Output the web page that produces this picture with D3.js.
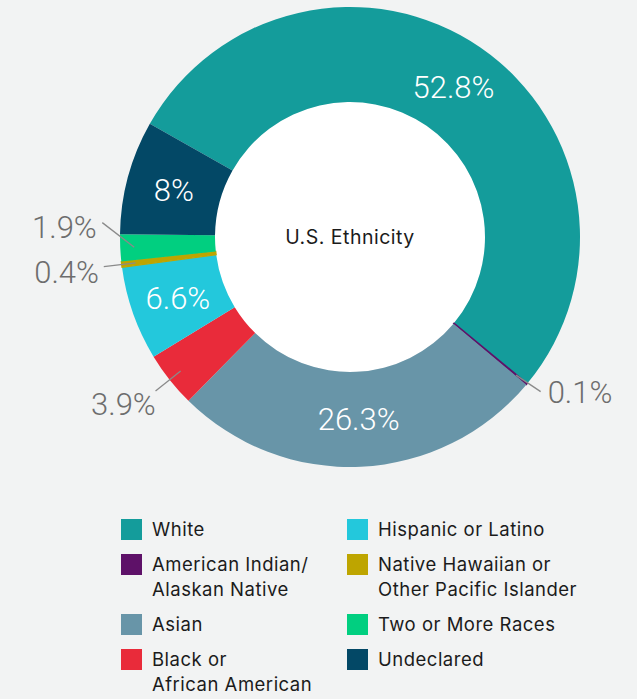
<!DOCTYPE html>
<html>
<head>
<meta charset="utf-8">
<script src="https://cdn.jsdelivr.net/npm/d3@7"></script>
<style>
  html, body { margin: 0; padding: 0; background: #f2f3f3; }
  svg { display: block; }
</style>
</head>
<body>
<svg id="chart"></svg>
<script>
const categories = ['White', 'American Indian/\nAlaskan Native', 'Asian', 'Black or\nAfrican American',
    'Hispanic or Latino', 'Native Hawaiian or\nOther Pacific Islander', 'Two or More Races', 'Undeclared'];
const shares = [52.8, 0.1, 26.3, 3.9, 6.6, 0.4, 1.9, 8];
const colors = ['#149c9b', '#5e1168', '#6895a8', '#e92b3a', '#23c8dc', '#bea500', '#01cf80', '#034866'];
const centerTitle = 'U.S. Ethnicity';

const WIDTH = 637, HEIGHT = 699;
const cx = 350, cy = 237, outerR = 230, innerR = 135;
const START = -60.5 * Math.PI / 180;
const INSIDE_MIN = 5;

const svg = d3.select('#chart').attr('width', WIDTH).attr('height', HEIGHT);
const g = svg.append('g').attr('transform', `translate(${cx}, ${cy})`);

const data = categories.map((name, i) => ({name, value: shares[i], color: colors[i]}));
const pie = d3.pie().sort(null).value(d => d.value)
    .startAngle(START).endAngle(START + 2 * Math.PI);
const arcs = pie(data);
const arc = d3.arc().innerRadius(innerR).outerRadius(outerR);
const fmt = v => `${v}%`;
const polar = (r, a) => [r * Math.sin(a), -r * Math.cos(a)];
const mid = d => (d.startAngle + d.endAngle) / 2;

g.append('circle').attr('r', innerR).attr('fill', '#fff');

g.selectAll('.slice')
    .data(arcs)
    .enter()
    .append('path')
    .classed('slice', true)
    .attr('d', arc)
    .attr('fill', d => d.data.color)
    .attr('stroke', d => d.data.value < 1 ? d.data.color : 'none')
    .attr('stroke-width', 1.2);

// labels inside the ring
g.selectAll('.inlabel')
    .data(arcs.filter(d => d.data.value >= INSIDE_MIN))
    .enter()
    .append('text')
    .classed('inlabel', true)
    .attr('transform', d => `translate(${arc.centroid(d)})`)
    .attr('text-anchor', 'middle')
    .attr('dy', '0.36em')
    .attr('fill', '#fff')
    .style('font-family', 'Roboto, sans-serif')
    .style('font-weight', 300)
    .style('font-size', '31px')
    .text(d => fmt(d.data.value));

// labels outside, with connectors
const outside = arcs.filter(d => d.data.value < INSIDE_MIN).map(d => {
    const a = mid(d);
    const end = polar(outerR + 18, a);
    return {d, a, left: Math.sin(a) < 0, start: polar(outerR - 14, a), x: end[0], y: end[1]};
});
const spacing = 44;
[true, false].forEach(side => {
    const group = outside.filter(o => o.left === side).sort((p, q) => q.y - p.y);
    for (let i = 1; i < group.length; i++) {
        group[i].y = Math.min(group[i].y, group[i - 1].y - spacing);
    }
});
// right-hand connectors bend up a little towards the label
outside.filter(o => !o.left).forEach(o => { o.y -= 4; });

g.selectAll('.leader')
    .data(outside)
    .enter()
    .append('line')
    .classed('leader', true)
    .attr('x1', o => o.start[0]).attr('y1', o => o.start[1])
    .attr('x2', o => o.x).attr('y2', o => o.y)
    .attr('stroke', '#8a8a8a')
    .attr('stroke-width', 1.3);

const lowDrop = o => Math.max(0, -Math.cos(o.a));
g.selectAll('.outlabel')
    .data(outside)
    .enter()
    .append('text')
    .classed('outlabel', true)
    .attr('x', o => o.left ? o.x - 6 + 10 * lowDrop(o) : o.x + 7)
    .attr('y', o => o.y + (o.left ? 3 + 16 * lowDrop(o) : 0))
    .attr('dy', '0.36em')
    .attr('text-anchor', o => o.left ? 'end' : 'start')
    .attr('fill', '#6d6d6d')
    .style('font-family', 'Roboto, sans-serif')
    .style('font-weight', 300)
    .style('font-size', '31px')
    .text(o => fmt(o.d.data.value));

g.append('text')
    .attr('text-anchor', 'middle')
    .attr('dy', '0.36em')
    .attr('fill', '#1b1b1b')
    .style('font-family', 'Inter, sans-serif')
    .style('font-size', '19.5px')
    .style('letter-spacing', '0.5px')
    .text(centerTitle);

// legend: two columns, rows grow with wrapped lines
const perCol = Math.ceil(data.length / 2);
const colX = d3.scaleOrdinal().domain([0, 1]).range([121, 347]);
const LINE = 25, GAP = 10, SQ = 21, TOP = 519;
const rowTops = [TOP];
for (let r = 0; r < perCol; r++) {
    const lines = d3.max([data[r], data[r + perCol]].filter(Boolean), e => e.name.split('\n').length);
    rowTops.push(rowTops[r] + lines * LINE + GAP);
}

const items = svg.selectAll('.legend')
    .data(data)
    .enter()
    .append('g')
    .classed('legend', true)
    .attr('transform', (d, i) => `translate(${colX(Math.floor(i / perCol))}, ${rowTops[i % perCol]})`);

items.append('rect')
    .attr('width', SQ).attr('height', SQ)
    .attr('fill', d => d.color);

items.append('text')
    .attr('fill', '#1b1b1b')
    .style('font-family', 'Inter, sans-serif')
    .style('font-size', '18.5px')
    .style('letter-spacing', '0.5px')
    .selectAll('tspan')
    .data(d => d.name.split('\n'))
    .enter()
    .append('tspan')
    .attr('x', 31)
    .attr('y', (t, j) => 16.5 + j * LINE)
    .text(t => t);
</script>
</body>
</html>
